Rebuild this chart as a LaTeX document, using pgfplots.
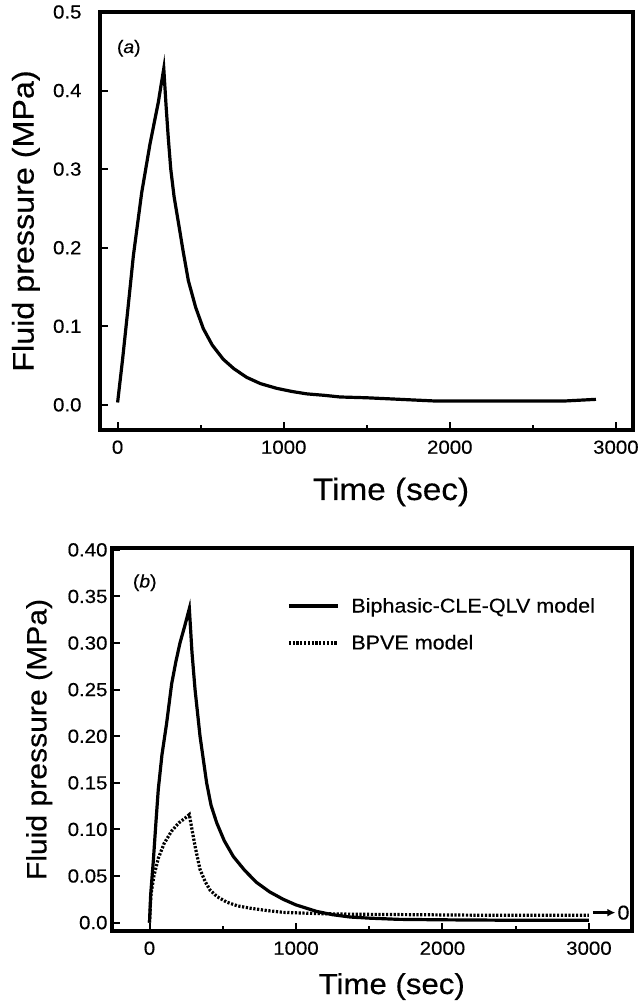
\documentclass[border=0pt]{standalone}
\usepackage{fontspec}
\setmainfont{Liberation Sans}[FakeStretch=1.08, FakeBold=0.4]
\usepackage{pgfplots}
\pgfplotsset{compat=1.18}
\usetikzlibrary{arrows.meta}

\pgfplotstableread{
t p
0 0.003
30 0.058
60 0.118
95 0.19
145 0.27
195 0.332
245 0.385
278 0.428
292 0.38
305 0.34
320 0.3
340 0.265
366 0.232
395 0.195
426 0.158
470 0.124
516 0.097
570 0.076
636 0.058
700 0.046
777 0.035
860 0.027
958 0.021
1050 0.017
1138 0.014
1250 0.012
1339 0.010
1500 0.009
1700 0.007
1900 0.005
2100 0.005
2400 0.005
2700 0.005
2880 0.007
}\dataA

\pgfplotstableread{
t p
0 0
8 0.03
26 0.066
45 0.11
60 0.143
85 0.18
117 0.214
151 0.256
180 0.28
208 0.300
240 0.318
272 0.337
290 0.29
311 0.25
345 0.20
390 0.15
420 0.126
459 0.107
510 0.088
572 0.071
650 0.056
732 0.043
820 0.033
913 0.025
1000 0.019
1141 0.012
1250 0.0085
1369 0.006
1500 0.0048
1700 0.0035
2000 0.003
2500 0.0025
3000 0.0025
}\dataBsolid

\pgfplotstableread{
t p
0 0
10 0.03
30 0.05
60 0.069
100 0.085
150 0.098
200 0.107
250 0.113
272 0.116
290 0.1
311 0.082
330 0.068
345 0.057
380 0.044
413 0.035
460 0.028
527 0.022
600 0.018
686 0.0155
800 0.013
913 0.011
1141 0.0097
1400 0.009
1800 0.0085
2200 0.008
2600 0.008
3000 0.008
}\dataBdot

\pgfplotsset{
  myax/.style={
    scale only axis,
    clip=false,
    axis line style={line width=3.2bp},
    every outer x axis line/.append style={line width=3.2bp},
    every outer y axis line/.append style={line width=3.2bp},
    tick style={line width=2bp, black},
    tickpos=left, tick align=inside,
    major tick length=8bp, minor tick length=5bp,
    /pgf/number format/assume math mode=true,
    /pgf/number format/1000 sep={},
    xtick={0,1000,2000,3000},
    xticklabels={0,1000,2000,3000},
    minor xtick={500,1500,2500},
    tick label style={font=\fontsize{19}{19}\selectfont},
    xticklabel style={yshift=-7bp},
  },
}

\begin{document}
\begin{tikzpicture}[x=1bp,y=1bp]
\path[use as bounding box] (0,0) rectangle (642,1006);

% ---------- (a) ----------
\begin{axis}[myax,
  at={(100bp,576bp)}, anchor=south west,
  width=533bp, height=418bp,
  xmin=-106, xmax=3103,
  ymin=-0.032, ymax=0.5,
  ytick={0,0.1,0.2,0.3,0.4,0.5},
  yticklabels={0.0,0.1,0.2,0.3,0.4,0.5},
  yticklabel style={xshift=-15bp},
  xlabel={Time (sec)},
  xlabel style={at={(axis description cs:0.546,0)}, anchor=base, yshift=-70bp,
    font=\fontsize{31}{31}\selectfont},
  ylabel={Fluid pressure (MPa)},
  ylabel style={at={(axis description cs:-0.139,0.5)}, anchor=center,
    font=\fontsize{30}{30}\selectfont},
]
\addplot[black, line width=3.2bp] table[x=t,y=p] {\dataA};
\node[font=\fontsize{18}{18}\selectfont] at (axis description cs:0.054,0.913) {(\textit{a})};
\end{axis}

% ---------- (b) ----------
\begin{axis}[myax,
  at={(112bp,75bp)}, anchor=south west,
  width=520bp, height=383bp,
  xmin=-256, xmax=3294,
  ymin=-0.009, ymax=0.402,
  ytick={0,0.05,0.10,0.15,0.20,0.25,0.30,0.35,0.40},
  yticklabels={0.0,0.05,0.10,0.15,0.20,0.25,0.30,0.35,0.40},
  yticklabel style={xshift=-1bp},
  xlabel={Time (sec)},
  xlabel style={at={(axis description cs:0.538,0)}, anchor=base, yshift=-63bp,
    font=\fontsize{29}{29}\selectfont},
  ylabel={Fluid pressure (MPa)},
  ylabel style={at={(axis description cs:-0.140,0.5)}, anchor=center,
    font=\fontsize{28}{28}\selectfont},
  legend style={draw=none, fill=none, at={(axis description cs:0.3365,0.875)},
    anchor=north west, font=\fontsize{20}{20}\selectfont,
    row sep=17bp, inner sep=0pt,
    nodes={inner sep=2bp}},
  legend cell align=left,
  legend image code/.code={\draw[#1] (0bp,0bp) -- (49bp,0bp);},
]
\addplot[black, line width=3.2bp] table[x=t,y=p] {\dataBsolid};
\addlegendentry{\hspace{10bp}Biphasic-CLE-QLV model}
\addplot[black, line width=3.2bp, dash pattern=on 2.2bp off 1.6bp] table[x=t,y=p] {\dataBdot};
\addlegendentry{\hspace{10bp}BPVE model}
\node[font=\fontsize{18}{18}\selectfont] at (axis description cs:0.063,0.909) {(\textit{b})};
\draw[-{Latex[length=8bp,width=8bp]}, line width=2.4bp] (axis cs:3027,0.0107) -- (axis cs:3180,0.0107)
  node[right, inner sep=1bp, font=\fontsize{20}{20}\selectfont] {0};
\end{axis}
\end{tikzpicture}
\end{document}
